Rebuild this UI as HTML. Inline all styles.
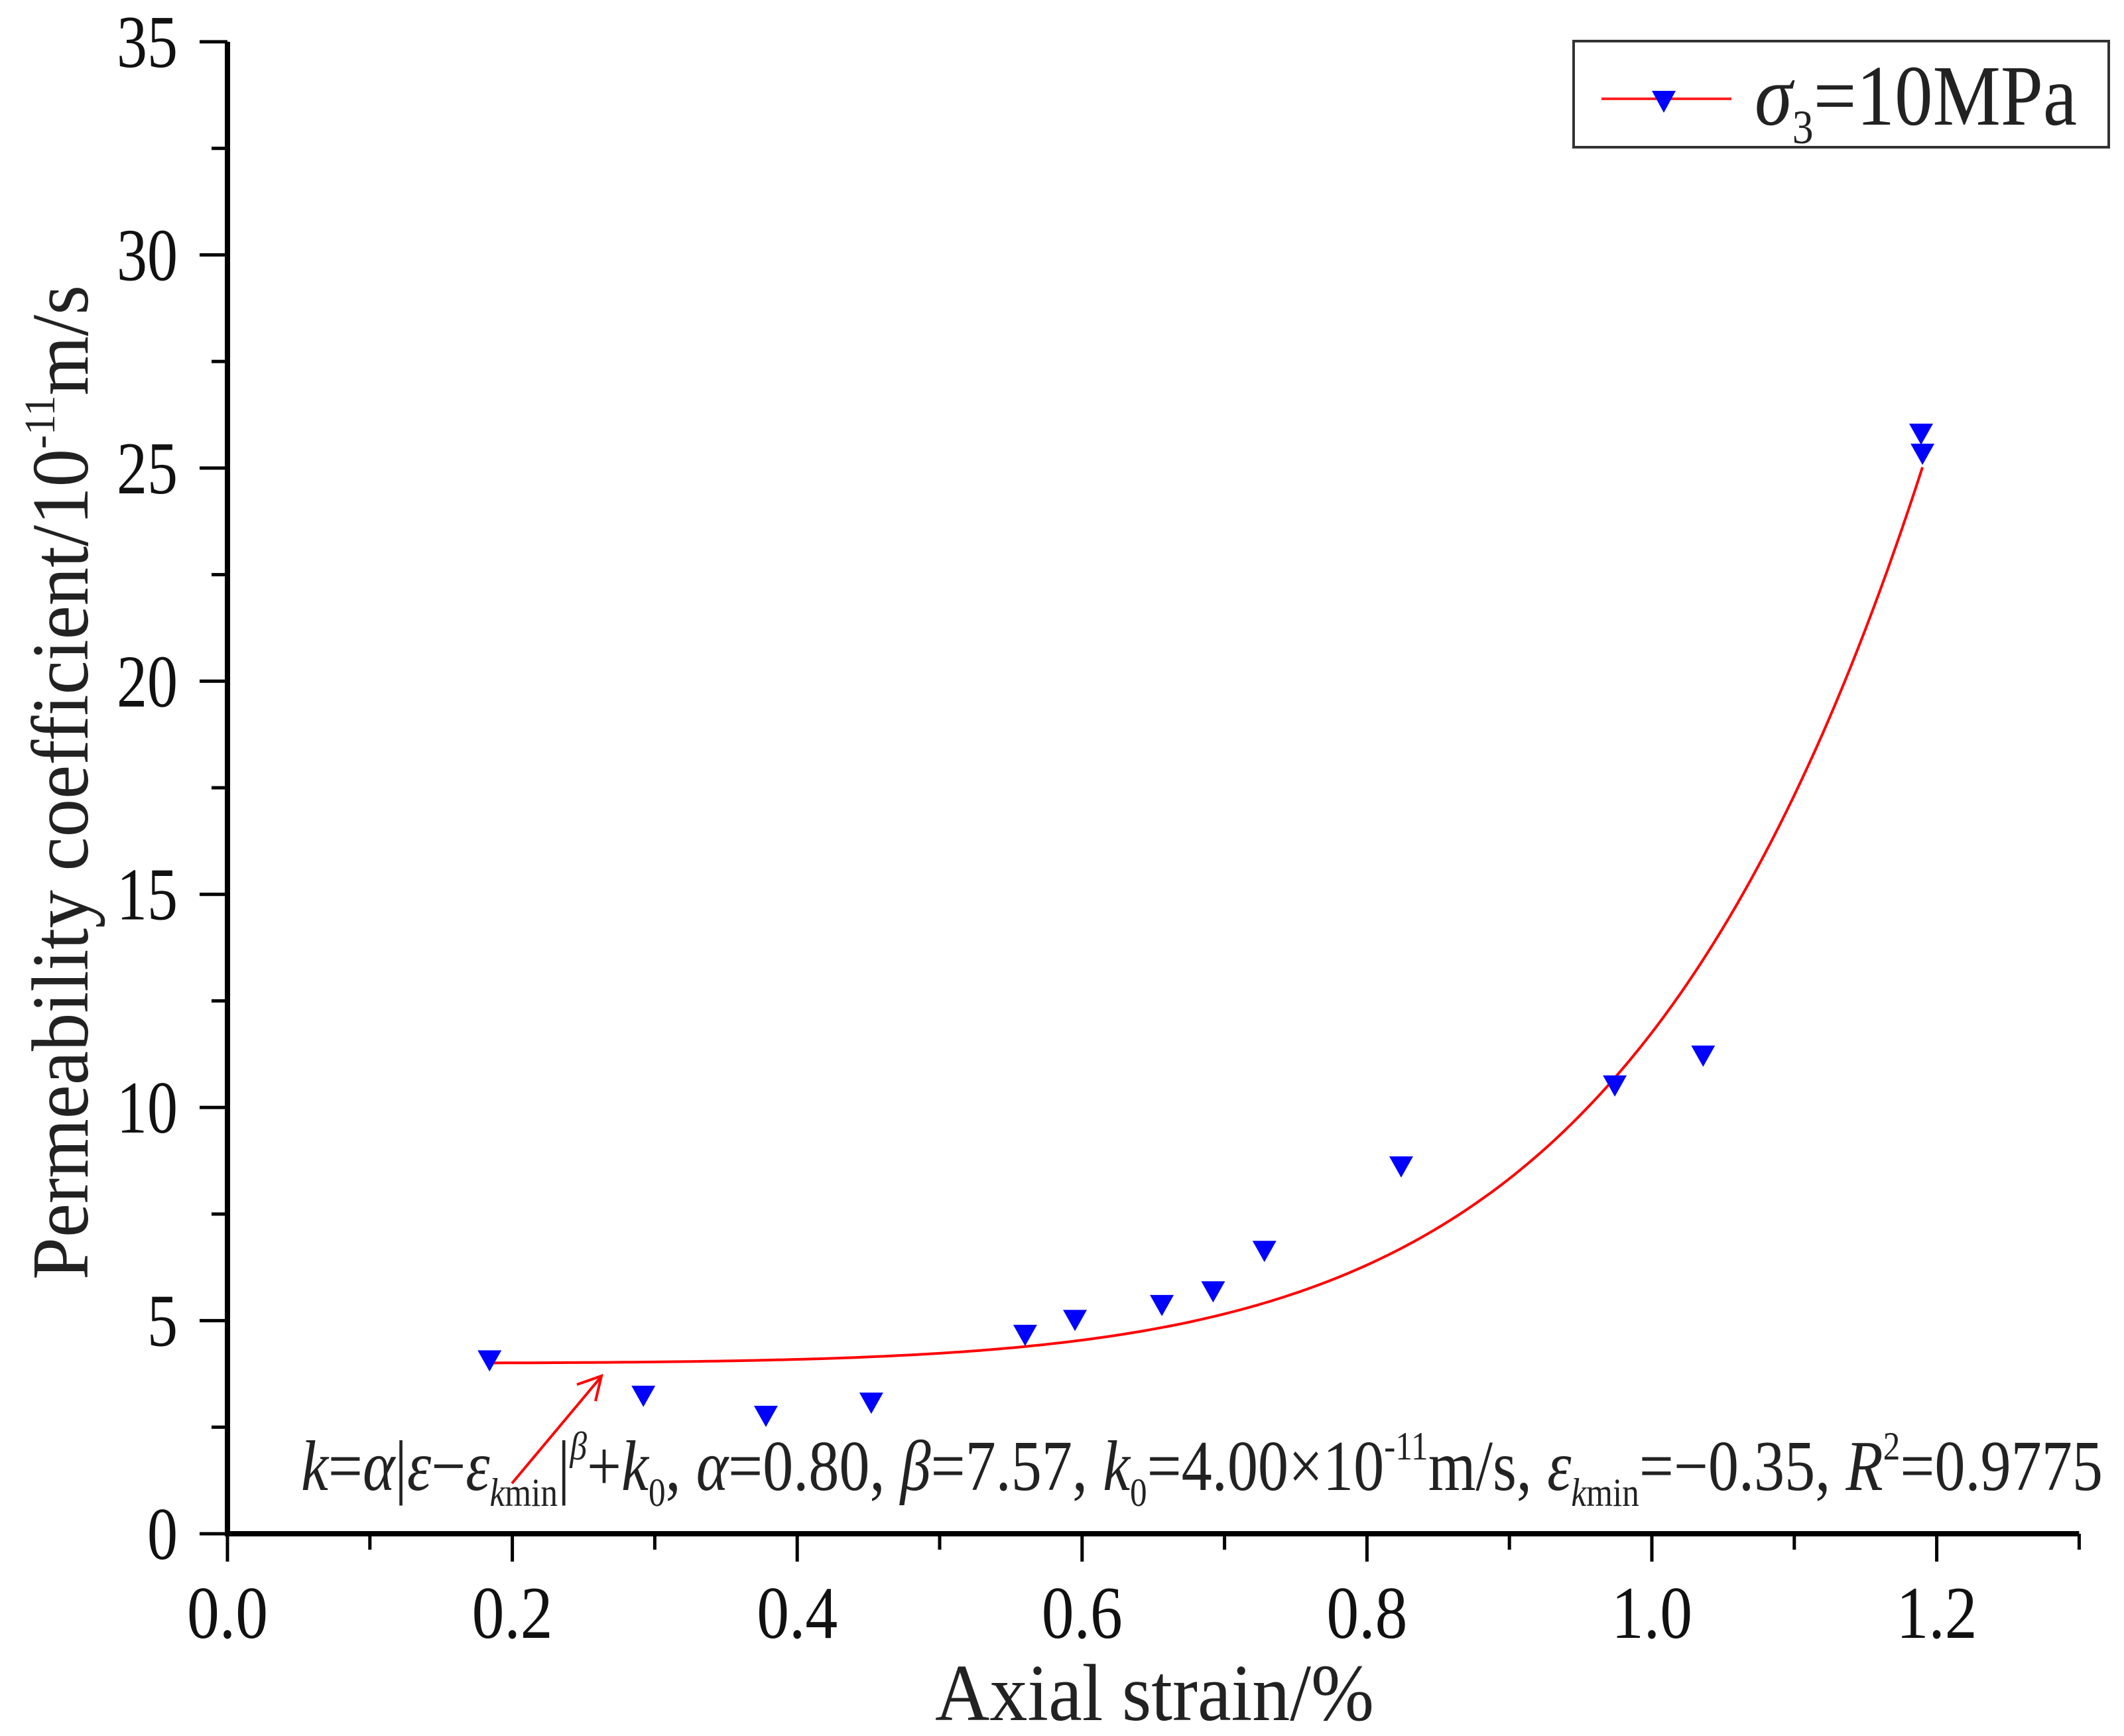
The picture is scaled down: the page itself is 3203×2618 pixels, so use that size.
<!DOCTYPE html>
<html><head><meta charset="utf-8"><style>
html,body{margin:0;padding:0;background:#fff;}
svg{display:block;font-family:"Liberation Serif",serif;}
</style></head><body>
<svg id="chart" width="3203" height="2618" viewBox="0 0 3203 2618" xmlns="http://www.w3.org/2000/svg">
<rect width="3203" height="2618" fill="#fff"/>
<g id="axes"></g>
<g id="curve"></g>
<g id="points"></g>
<text transform="translate(132,1180) rotate(-90)" text-anchor="middle" font-size="122" fill="#222" textLength="1500" lengthAdjust="spacingAndGlyphs">Permeability coefficient/10<tspan font-size="66" dy="-50">-11</tspan><tspan dy="50">m/s</tspan></text>
<text x="1741" y="2594" text-anchor="middle" font-size="122" fill="#222" textLength="662" lengthAdjust="spacingAndGlyphs">Axial strain/%</text>
<g>
<rect x="2373" y="62" width="807" height="160" fill="#fff" stroke="#333" stroke-width="4"/>
<line x1="2415" y1="149" x2="2611" y2="149" stroke="#f22" stroke-width="4"/>
<polygon points="2491,137 2527,137 2509,170" fill="#0000ff"/>
<text x="2646" y="188" font-size="130" fill="#222" textLength="486" lengthAdjust="spacingAndGlyphs"><tspan font-style="italic">σ</tspan><tspan font-size="72" dy="28">3</tspan><tspan dy="-28">=10MPa</tspan></text>
</g>
<g>
<text x="454" y="2247" font-size="108" fill="#222" textLength="2717" lengthAdjust="spacingAndGlyphs"><tspan font-style="italic">k</tspan>=<tspan font-style="italic">α</tspan>|<tspan font-style="italic">ε</tspan>−<tspan font-style="italic">ε</tspan><tspan font-size="60" dy="24"><tspan font-style="italic">k</tspan>min</tspan><tspan dy="-24">|</tspan><tspan font-size="60" dy="-46" font-style="italic">β</tspan><tspan dy="46">+</tspan><tspan font-style="italic">k</tspan><tspan font-size="60" dy="24">0</tspan><tspan dy="-24">, </tspan><tspan font-style="italic">α</tspan>=0.80, <tspan font-style="italic">β</tspan>=7.57, <tspan font-style="italic">k</tspan><tspan font-size="60" dy="24">0</tspan><tspan dy="-24">=4.00×10</tspan><tspan font-size="60" dy="-46">-11</tspan><tspan dy="46">m/s, </tspan><tspan font-style="italic">ε</tspan><tspan font-size="60" dy="24"><tspan font-style="italic">k</tspan>min</tspan><tspan dy="-24">=−0.35, </tspan><tspan font-style="italic">R</tspan><tspan font-size="60" dy="-46">2</tspan><tspan dy="46">=0.9775</tspan></text>
<line x1="772" y1="2237" x2="905" y2="2078" stroke="#f00" stroke-width="4"/>
<polyline points="870,2088 907,2075 898,2113" fill="none" stroke="#f00" stroke-width="4"/>
</g>
</svg>
<script>
const xData = [0.184,0.292,0.378,0.452,0.560,0.595,0.656,0.692,0.728,0.824,0.974,1.036,1.190,1.189];
const yData = [4.1,3.27,2.8,3.11,4.70,5.05,5.40,5.72,6.67,8.65,10.55,11.25,25.37,25.84];
const xTicks = [0,0.2,0.4,0.6,0.8,1.0,1.2];
const xTickLabels = ["0.0","0.2","0.4","0.6","0.8","1.0","1.2"];
const yTicks = [0,5,10,15,20,25,30,35];
const fitParams = [0.80,7.57,4.00,-0.35];
const fitRange = [0.184,1.19];

const NS="http://www.w3.org/2000/svg";
const X0=343,XPU=2148,Y0=2313,YPU=(2313-63)/35;
const sx=v=>X0+v*XPU, sy=v=>Y0-v*YPU;
function mk(tag,attrs,parent){const e=document.createElementNS(NS,tag);for(const k in attrs)e.setAttribute(k,attrs[k]);parent.appendChild(e);return e;}
const axes=document.getElementById('axes');
let e;
e=mk('line',{x1:X0,y1:sy(35),x2:X0,y2:Y0+4,stroke:'#000','stroke-width':8},axes);


e=mk('line',{x1:X0-4,y1:Y0,x2:sx(1.3),y2:Y0,stroke:'#000','stroke-width':8},axes);


for(let i=0;i<=13;i++){
  const v=i*0.1,x=sx(v),major=i%2===0;
  e=mk('line',{x1:x,y1:Y0,x2:x,y2:Y0+(major?42:24),stroke:'#000','stroke-width':5},axes);
  
  
}
xTicks.forEach((v,i)=>{
  e=mk('text',{x:sx(v),y:2470,'text-anchor':'middle','font-size':112,fill:'#111',textLength:122,lengthAdjust:'spacingAndGlyphs'},axes);
  e.textContent=xTickLabels[i];
  
  
});
for(let v=0;v<=35;v+=2.5){
  const y=sy(v),major=(v%5===0);
  e=mk('line',{x1:X0,y1:y,x2:X0-(major?42:24),y2:y,stroke:'#000','stroke-width':5},axes);
  
  
}
yTicks.forEach(v=>{
  const s=String(v);
  e=mk('text',{x:268,y:sy(v)+38,'text-anchor':'end','font-size':112,fill:'#111',textLength:s.length*46,lengthAdjust:'spacingAndGlyphs'},axes);
  e.textContent=s;
  
  
});
const [a,b,k0,em]=fitParams;
let d='';
for(let i=0;i<=200;i++){
  const x=fitRange[0]+(fitRange[1]-fitRange[0])*i/200;
  const k=a*Math.pow(Math.abs(x-em),b)+k0;
  d+=(i?'L':'M')+sx(x).toFixed(1)+','+sy(k).toFixed(1);
}
e=mk('path',{d:d,fill:'none',stroke:'#f00','stroke-width':4},document.getElementById('curve'));


const pts=document.getElementById('points');
xData.forEach((xv,i)=>{
  const cx=sx(xv),cy=sy(yData[i]);
  e=mk('polygon',{points:`${cx-18},${cy-13} ${cx+18},${cy-13} ${cx},${cy+19}`,fill:'#0000ff'},pts);
  
  
});
</script>
</body></html>
